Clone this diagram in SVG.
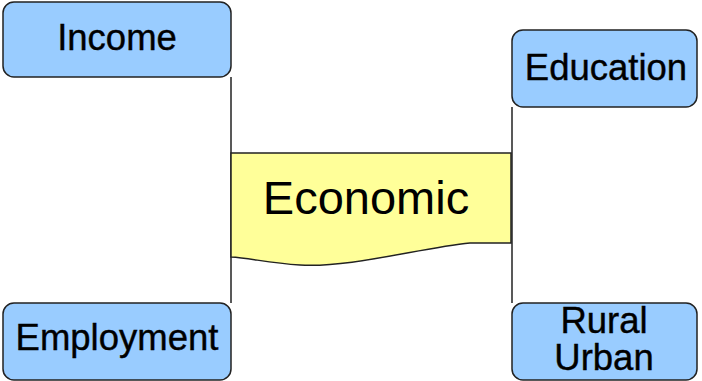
<svg xmlns="http://www.w3.org/2000/svg" width="702" height="381" viewBox="0 0 702 381">
<style>
.box{fill:#99CCFF;stroke:#222;stroke-width:1.5}
.lbl{font-family:"Liberation Sans",Arial,sans-serif;font-size:36.5px;fill:#000;stroke:#000;stroke-width:0.4;text-anchor:middle}
.con{stroke:#222;stroke-width:1.5;fill:none}
</style>
<rect width="702" height="381" fill="#fff"/>
<g id="connectors">
<line class="con" x1="231" y1="77" x2="231" y2="303"/>
<line class="con" x1="512" y1="107" x2="512" y2="303"/>
</g>
<g id="economic">
<path d="M231,153 H511 V243 H470 C420,248 350,268 300,265 C268,263 250,258 231,257 Z" fill="#FFFF99" stroke="#222" stroke-width="1.5"/>
<text x="366" y="214" font-family="Liberation Sans, Arial, sans-serif" font-size="47" text-anchor="middle">Economic</text>
</g>
<g id="income">
<rect class="box" x="3" y="2" width="228" height="75" rx="11"/>
<text class="lbl" x="117" y="50">Income</text>
</g>
<g id="employment">
<rect class="box" x="3" y="303" width="228" height="77" rx="11"/>
<text class="lbl" x="117" y="350">Employment</text>
</g>
<g id="education">
<rect class="box" x="512" y="30" width="185" height="77" rx="11"/>
<text class="lbl" x="606" y="80">Education</text>
</g>
<g id="ruralurban">
<rect class="box" x="512" y="303" width="185" height="77" rx="11"/>
<text class="lbl" x="604" y="333">Rural</text>
<text class="lbl" x="604" y="370">Urban</text>
</g>
</svg>
